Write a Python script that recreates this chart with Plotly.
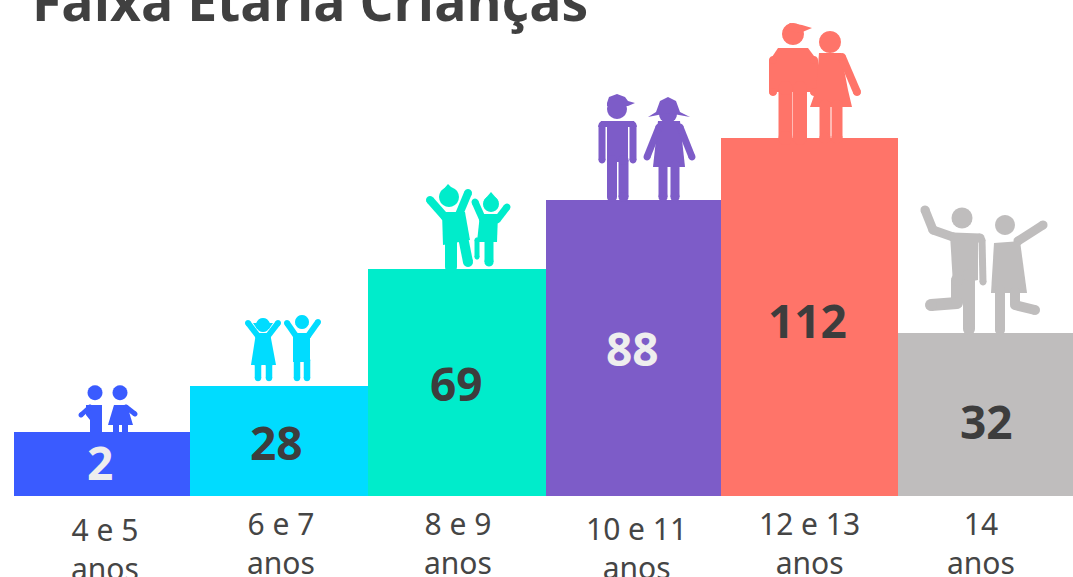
import math
import plotly.graph_objects as go

# ---- chart data ----
title_text = "Faixa Etária Crianças"
categories = ["4 e 5<br>anos", "6 e 7<br>anos", "8 e 9<br>anos", "10 e 11<br>anos", "12 e 13<br>anos", "14<br>anos"]
values = [2, 28, 69, 88, 112, 32]
bar_heights = [64, 110, 227, 296, 358, 163]   # drawn height (the source graphic is not to scale)
colors = ["#3a5bff", "#00dcff", "#00eccb", "#7d5cc8", "#ff7469", "#bfbdbd"]
value_colors = ["#eeeeee", "#3d3d3d", "#3d3d3d", "#eeeeee", "#3d3d3d", "#3d3d3d"]

# ---- layout helpers ----
W, H = 1073, 577
BASE = 496
bar_centers = [102, 279, 457, 633.5, 809.5, 985.5]
bar_widths = [176, 178, 178, 175, 177, 175]
value_y = [462, 442, 383, 348, 320, 421]
value_x = [100, 276, 456, 632, 807, 986]
label_x = [105, 281, 458, 636, 809, 981]
label_y = [507, 501, 501, 506, 501, 501]


def sub(pts):
    s = ""
    for i, (x, y) in enumerate(pts):
        s += ("M" if i == 0 else "L") + f"{x / W:.5f},{1 - y / H:.5f}"
    return [s + "Z"]


def disc(cx, cy, r):
    return sub([(cx + r * math.cos(2 * math.pi * i / 20), cy + r * math.sin(2 * math.pi * i / 20)) for i in range(20)])


def limb(points, w):
    out = []
    for (x0, y0), (x1, y1) in zip(points, points[1:]):
        d = math.hypot(x1 - x0, y1 - y0) or 1
        nx, ny = -(y1 - y0) / d * w / 2, (x1 - x0) / d * w / 2
        out += sub([(x0 + nx, y0 + ny), (x1 + nx, y1 + ny), (x1 - nx, y1 - ny), (x0 - nx, y0 - ny)])
    for x, y in points:
        out += disc(x, y, w / 2)
    return out


def icon(parts, color):
    return [dict(type="path", xref="paper", yref="paper", path=p,
                 fillcolor=color, line=dict(width=0), layer="above")
            for part in parts for p in part]


icons = []
icons += icon([
    disc(95, 392.7, 7.5), sub([(86, 405), (102, 405), (102, 432), (90, 432), (90, 420), (86, 415)]),
    limb([(90, 407), (81, 415)], 5),
    disc(120, 392.7, 7.5), sub([(114, 405), (127, 405), (133, 425), (108, 425)]),
    limb([(126, 407), (135, 414)], 5), limb([(116, 425), (116, 432)], 6), limb([(125, 425), (125, 432)], 6),
], colors[0])
icons += icon([
    disc(263, 325, 7), sub([(253, 323), (273, 323), (269, 329), (257, 329)]),
    limb([(248, 323), (258, 336)], 6), limb([(278, 323), (268, 336)], 6),
    sub([(256, 333), (270, 333), (276, 365), (251, 365)]),
    limb([(258, 365), (258, 378)], 6.5), limb([(269, 365), (269, 378)], 6.5),
    disc(302, 322, 7), limb([(287, 323), (296, 336)], 6), limb([(318, 322), (308, 336)], 6),
    sub([(293, 333), (310, 333), (310, 362), (293, 362)]),
    limb([(297, 360), (297, 378)], 6.5), limb([(307, 360), (307, 378)], 6.5),
], colors[1])
icons += icon([
    disc(449, 197, 10), sub([(442, 191), (448, 184), (455, 191)]),
    limb([(430, 200), (445, 217)], 8), limb([(468, 193), (458, 217)], 8),
    sub([(442, 212), (465, 212), (470, 240), (443, 245)]),
    limb([(451, 240), (451, 267)], 12), limb([(463, 237), (468, 262)], 10),
    disc(491, 204, 8), sub([(485, 199), (491, 192), (497, 199)]),
    limb([(475, 202), (483, 220)], 7), limb([(507, 207), (497, 220)], 7),
    sub([(480, 214), (498, 214), (497, 242), (477, 242)]),
    limb([(477, 240), (477, 257)], 5), limb([(489, 240), (489, 262)], 9),
], colors[2])
icons += icon([
    disc(617, 109, 10), sub([(607, 103), (609, 97), (617, 94), (625, 97), (628, 101), (635, 103), (628, 106), (607, 106)]),
    sub([(601, 121), (634, 121), (637, 127), (628, 127), (628, 162), (607, 162), (607, 127), (598, 127)]),
    limb([(602, 125), (602, 160)], 7), limb([(633, 125), (633, 160)], 7),
    limb([(612, 160), (612, 197)], 10), limb([(623.5, 160), (623.5, 197)], 10),
    disc(668, 114, 9), sub([(648, 117), (656, 112), (660, 101), (668, 97), (676, 101), (680, 112), (690, 117), (668, 113)]),
    sub([(658, 121), (680, 121), (685, 167), (653, 167)]),
    limb([(659, 127), (647, 157)], 7), limb([(680, 127), (692, 157)], 7),
    limb([(663, 165), (663, 197)], 9), limb([(675, 165), (675, 197)], 9),
], colors[3])
icons += icon([
    disc(793, 34, 11), sub([(783, 30), (790, 23), (802, 25), (812, 28), (800, 33)]),
    sub([(778, 48), (808, 48), (817, 60), (817, 92), (770, 92), (770, 60)]),
    limb([(773, 60), (773, 92)], 8), limb([(814, 60), (814, 92)], 8),
    limb([(785.5, 88), (785.5, 138)], 14), limb([(800, 88), (800, 138)], 14),
    disc(830, 42, 11), sub([(819, 53), (841, 53), (848, 90), (852, 107), (810, 107), (816, 90)]),
    limb([(842, 57), (857, 92)], 8),
    limb([(825, 105), (825, 138)], 11), limb([(837, 105), (837, 138)], 11),
], colors[4])
icons += icon([
    disc(962, 218, 10.5),
    limb([(925, 210), (933, 230), (953, 237), (980, 238)], 9),
    sub([(950, 234), (978, 234), (978, 280), (953, 285)]),
    limb([(982, 240), (983, 282)], 7),
    limb([(969, 275), (969, 329)], 12), limb([(957, 280), (957, 303), (931, 305)], 12),
    disc(1005, 225, 10),
    limb([(1018, 241), (1043, 225)], 9),
    sub([(994, 243), (1020, 241), (1027, 293), (991, 293)]),
    limb([(1000, 290), (1000, 330)], 10), limb([(1015, 292), (1015, 305), (1035, 310)], 10),
], colors[5])

fig = go.Figure(go.Bar(
    x=bar_centers, y=bar_heights, width=bar_widths,
    marker=dict(color=colors, line=dict(width=0)),
    customdata=values, hovertemplate="%{customdata}<extra></extra>",
))

annotations = []
for x, y, v, c in zip(value_x, value_y, values, value_colors):
    annotations.append(dict(x=x, y=BASE - y, xref="x", yref="y", text=f"<b>{v}</b>", showarrow=False,
                            xanchor="center", yanchor="middle",
                            font=dict(family="Open Sans", size=46, color=c)))
for x, y, t in zip(label_x, label_y, categories):
    annotations.append(dict(x=x, y=BASE - y, xref="x", yref="y", text=t, showarrow=False,
                            xanchor="center", yanchor="top", align="center",
                            font=dict(family="Noto Sans", size=30, color="#454545")))

fig.update_layout(
    width=W, height=H, margin=dict(l=0, r=0, t=0, b=0), autosize=False,
    paper_bgcolor="white", plot_bgcolor="white", showlegend=False,
    title=dict(text=f"<b>{title_text}</b>", x=32 / W, xanchor="left", xref="paper",
               y=1 - 21 / H, yanchor="bottom", yref="container",
               font=dict(family="Open Sans", size=53.5, color="#404040")),
    xaxis=dict(range=[0, W], visible=False, fixedrange=True),
    yaxis=dict(range=[BASE - H, BASE], visible=False, fixedrange=True),
    annotations=annotations, shapes=icons,
)
fig.write_html("out.html", config=dict(displayModeBar=False),
               post_script="document.body.style.margin='0';document.body.style.overflow='hidden';")
